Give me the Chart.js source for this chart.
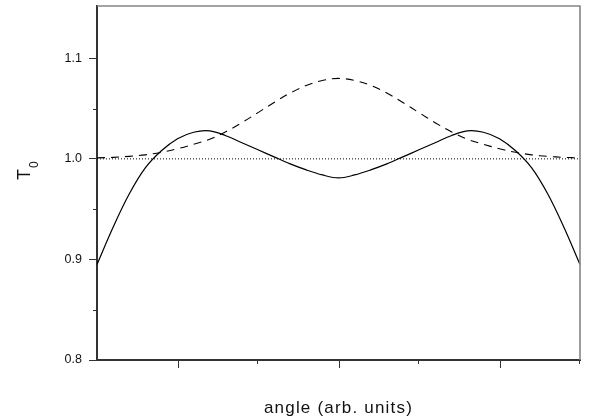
<!DOCTYPE html>
<html>
<head>
<meta charset="utf-8">
<script src="https://cdn.jsdelivr.net/npm/chart.js@4/dist/chart.umd.min.js"></script>
<style>
  html, body { margin: 0; padding: 0; background: #ffffff; }
  #wrap { width: 589px; height: 419px; position: relative; }
</style>
</head>
<body>
<div id="wrap"><canvas id="c" width="589" height="419"></canvas></div>
<script>
// ---- data ----
const angles = [0.0, 0.2, 0.4, 0.6, 0.8, 1.0, 1.2, 1.4, 1.6, 1.8, 2.0, 2.2, 2.4, 2.6, 2.8, 3.0,
                3.2, 3.4, 3.6, 3.8, 4.0, 4.2, 4.4, 4.6, 4.8, 5.0, 5.2, 5.4, 5.6, 5.8, 6.0];
const solidT0 = [0.895, 0.932, 0.965, 0.991, 1.008, 1.020, 1.0265, 1.0278, 1.023, 1.016, 1.009, 1.002, 0.995, 0.989, 0.984, 0.981,
                 0.984, 0.989, 0.995, 1.002, 1.009, 1.016, 1.023, 1.0278, 1.0265, 1.020, 1.008, 0.991, 0.965, 0.932, 0.895];
const dashedT0 = [1.001, 1.0015, 1.0025, 1.004, 1.0065, 1.010, 1.0145, 1.0195, 1.027, 1.036, 1.046, 1.056, 1.0655, 1.073, 1.078, 1.080,
                  1.078, 1.073, 1.0655, 1.056, 1.046, 1.036, 1.027, 1.0195, 1.0145, 1.010, 1.0065, 1.004, 1.0025, 1.0015, 1.001];
const refAngles = [0.0, 6.0];
const dottedT0 = [1.0, 1.0];

const yMajorTicks = [0.8, 0.9, 1.0, 1.1];
const yMinorTicks = [0.85, 0.95, 1.05];
const xMajorTicks = [1, 3, 5];
const xMinorTicks = [2, 4, 6];
const xRange = [0, 6];
const yRange = [0.8, 1.152];
const xTitle = 'angle (arb. units)';
const yTitleMain = 'T';
const yTitleSub = '0';

const toXY = (xs, ys) => xs.map((x, i) => ({ x: x, y: ys[i] }));

const FONT = '"Liberation Sans", Arial, Helvetica, sans-serif';

const decor = {
  id: 'decor',
  afterDraw(chart) {
    const ctx = chart.ctx;
    const a = chart.chartArea;
    const xs = chart.scales.x, ys = chart.scales.y;
    ctx.save();
    // top & right frame lines (grey)
    ctx.strokeStyle = '#858585';
    ctx.lineWidth = 1.6;
    ctx.beginPath();
    ctx.moveTo(a.left, a.top);
    ctx.lineTo(a.right, a.top);
    ctx.lineTo(a.right, a.bottom);
    ctx.stroke();
    // minor y ticks
    ctx.strokeStyle = '#333';
    ctx.lineWidth = 1;
    ctx.beginPath();
    yMinorTicks.forEach(v => {
      const py = Math.round(ys.getPixelForValue(v)) + 0.5;
      ctx.moveTo(a.left - 4, py); ctx.lineTo(a.left, py);
    });
    // x ticks
    xMajorTicks.forEach(v => {
      const px = Math.round(xs.getPixelForValue(v)) + 0.5;
      ctx.moveTo(px, a.bottom); ctx.lineTo(px, a.bottom + 8);
    });
    xMinorTicks.forEach(v => {
      const px = Math.round(xs.getPixelForValue(v)) - 0.5;
      ctx.moveTo(px, a.bottom); ctx.lineTo(px, a.bottom + 4);
    });
    ctx.stroke();
    // x title
    ctx.fillStyle = '#111';
    ctx.font = '17px ' + FONT;
    if ('letterSpacing' in ctx) ctx.letterSpacing = '1.2px';
    ctx.textAlign = 'center';
    ctx.textBaseline = 'alphabetic';
    ctx.fillText(xTitle, (a.left + a.right) / 2, 413);
    if ('letterSpacing' in ctx) ctx.letterSpacing = '0px';
    // y title T0 (rotated, with subscript)
    ctx.translate(29.5, 180);
    ctx.rotate(-Math.PI / 2);
    ctx.textAlign = 'left';
    ctx.font = '18px ' + FONT;
    ctx.fillText(yTitleMain, 0, 0);
    const w = ctx.measureText(yTitleMain).width;
    ctx.font = '12px ' + FONT;
    ctx.fillText(yTitleSub, w + 1, 8.5);
    ctx.restore();
  }
};

new Chart(document.getElementById('c'), {
  type: 'line',
  data: {
    datasets: [
      { label: 'solid', data: toXY(angles, solidT0), borderColor: '#000', borderWidth: 1.2,
        pointRadius: 0, tension: 0.35, fill: false },
      { label: 'dashed', data: toXY(angles, dashedT0), borderColor: '#000', borderWidth: 1.1,
        borderDash: [8, 6], pointRadius: 0, tension: 0.35, fill: false },
      { label: 'dotted', data: toXY(refAngles, dottedT0), borderColor: '#000', borderWidth: 1,
        borderDash: [1, 2], pointRadius: 0, tension: 0, fill: false }
    ]
  },
  options: {
    responsive: false,
    animation: false,
    layout: { padding: { top: 6, right: 9, left: 0, bottom: 0 } },
    plugins: { legend: { display: false }, tooltip: { enabled: false }, title: { display: false } },
    scales: {
      x: {
        type: 'linear', min: xRange[0], max: xRange[1],
        ticks: { display: false },
        grid: { display: false },
        border: { display: true, color: '#333', width: 2 },
        afterFit: s => { s.height = 59; s.paddingLeft = 0; s.paddingRight = 0; }
      },
      y: {
        type: 'linear', min: yRange[0], max: yRange[1],
        afterBuildTicks: s => { s.ticks = yMajorTicks.map(v => ({ value: v })); },
        ticks: { callback: v => Number(v).toFixed(1), color: '#111', padding: 7,
                 font: { family: FONT, size: 12.5 } },
        grid: { drawOnChartArea: false, drawTicks: true, tickLength: 8, color: '#333', tickWidth: 1 },
        border: { display: true, color: '#333', width: 2 },
        afterFit: s => { s.width = 97; s.paddingTop = 0; s.paddingBottom = 0; }
      }
    }
  },
  plugins: [decor]
});
</script>
</body>
</html>
